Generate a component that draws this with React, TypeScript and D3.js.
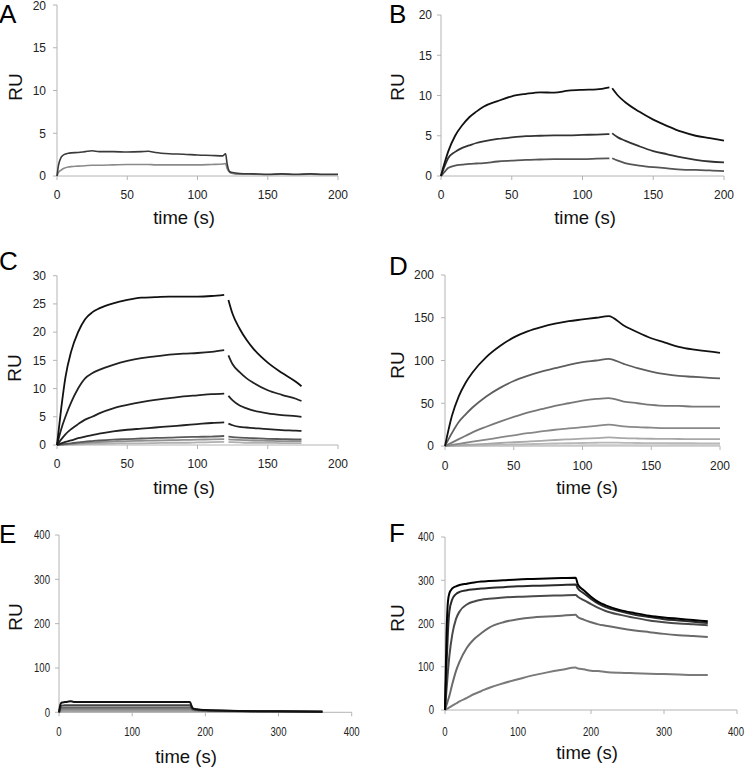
import React from "react";
import * as d3 from "d3";

// ---------------- DATA ----------------
// Panel A
const aTime = [0, 1, 3, 5, 8, 10, 15, 20, 25, 30, 40, 50, 60, 65, 70, 80, 90, 100, 110, 118, 120, 121, 123, 125, 130, 140, 150, 160, 170, 180, 190, 200];
const aDark = [0, 1.2, 2.2, 2.5, 2.65, 2.7, 2.75, 2.85, 2.95, 2.85, 2.85, 2.8, 2.85, 2.9, 2.75, 2.6, 2.55, 2.45, 2.4, 2.35, 2.6, 1.5, 0.5, 0.4, 0.3, 0.25, 0.2, 0.25, 0.2, 0.25, 0.2, 0.2];
const aLight = [0, 0.4, 0.7, 0.9, 1.05, 1.1, 1.15, 1.2, 1.25, 1.25, 1.3, 1.35, 1.35, 1.35, 1.3, 1.3, 1.3, 1.3, 1.35, 1.4, 1.45, 0.9, 0.4, 0.3, 0.2, 0.2, 0.15, 0.2, 0.15, 0.2, 0.15, 0.15];

// Panel B
const bAssocTime = [0, 1, 3, 5, 10, 15, 20, 25, 30, 40, 50, 60, 70, 80, 90, 100, 110, 119];
const bDissTime = [121, 125, 130, 140, 150, 160, 170, 180, 190, 200];
const bHighAssoc = [0, 0.7, 1.9, 3.0, 5.0, 6.3, 7.3, 8.0, 8.6, 9.3, 9.9, 10.2, 10.4, 10.35, 10.6, 10.7, 10.75, 11.0];
const bHighDiss = [10.9, 10.0, 9.2, 8.0, 7.0, 6.2, 5.5, 5.0, 4.7, 4.4];
const bMidAssoc = [0, 0.5, 1.4, 2.2, 3.0, 3.5, 3.8, 4.1, 4.3, 4.6, 4.8, 4.95, 5.0, 5.05, 5.05, 5.1, 5.15, 5.2];
const bMidDiss = [5.3, 4.8, 4.4, 3.7, 3.1, 2.7, 2.3, 2.0, 1.8, 1.7];
const bLowAssoc = [0, 0.2, 0.6, 1.0, 1.3, 1.4, 1.5, 1.55, 1.6, 1.8, 1.9, 2.0, 2.05, 2.1, 2.1, 2.1, 2.15, 2.2];
const bLowDiss = [2.2, 1.9, 1.6, 1.3, 1.1, 0.95, 0.8, 0.75, 0.7, 0.6];

// Panel C
const cAssocTime = [0, 3, 6, 10, 15, 20, 25, 30, 40, 50, 60, 70, 80, 90, 100, 110, 119];
const cDissTime = [122, 125, 130, 135, 140, 150, 160, 170, 174];
const c1Assoc = [0, 6.5, 12, 16.5, 20, 22.3, 23.5, 24.2, 25.1, 25.7, 26.1, 26.2, 26.3, 26.3, 26.3, 26.4, 26.6];
const c1Diss = [25.7, 23.2, 20.6, 18.6, 17.0, 14.6, 12.8, 11.2, 10.4];
const c2Assoc = [0, 2.8, 5, 7.5, 10, 11.8, 12.7, 13.3, 14.2, 14.9, 15.4, 15.7, 16.0, 16.2, 16.3, 16.5, 16.8];
const c2Diss = [15.9, 14.3, 12.9, 11.8, 11.0, 9.7, 8.9, 8.2, 7.8];
const c3Assoc = [0, 1.0, 1.9, 2.8, 3.7, 4.5, 5.0, 5.6, 6.5, 7.1, 7.6, 8.0, 8.3, 8.6, 8.8, 9.0, 9.1];
const c3Diss = [8.7, 7.9, 7.0, 6.5, 6.1, 5.6, 5.3, 5.1, 5.0];
const c4Assoc = [0, 0.3, 0.55, 0.8, 1.2, 1.5, 1.75, 2.0, 2.4, 2.7, 2.9, 3.1, 3.3, 3.5, 3.7, 3.9, 4.0];
const c4Diss = [3.8, 3.5, 3.2, 3.1, 3.0, 2.8, 2.65, 2.55, 2.5];
const c5Assoc = [0, 0.1, 0.2, 0.3, 0.45, 0.6, 0.7, 0.8, 0.95, 1.05, 1.15, 1.25, 1.3, 1.4, 1.45, 1.5, 1.6];
const c5Diss = [1.5, 1.4, 1.3, 1.25, 1.2, 1.1, 1.05, 1.0, 1.0];
const c6Assoc = [0, 0.05, 0.1, 0.2, 0.3, 0.4, 0.45, 0.5, 0.6, 0.7, 0.75, 0.8, 0.85, 0.9, 0.95, 1.0, 1.05];
const c6Diss = [1.0, 0.95, 0.9, 0.85, 0.8, 0.75, 0.7, 0.7, 0.7];
const c7Assoc = [0, 0.02, 0.05, 0.08, 0.1, 0.15, 0.2, 0.2, 0.25, 0.3, 0.3, 0.35, 0.4, 0.4, 0.45, 0.5, 0.55];
const c7Diss = [0.5, 0.5, 0.45, 0.4, 0.4, 0.4, 0.35, 0.35, 0.35];

// Panel D
const dTime = [0, 5, 10, 15, 20, 30, 40, 50, 60, 70, 80, 90, 100, 110, 119, 130, 140, 150, 160, 170, 180, 190, 200];
const d1 = [0, 35, 58, 74, 86, 104, 117, 127, 134, 139, 143, 146, 148, 150, 152, 141, 133, 126, 121, 116, 113, 111, 109];
const d2 = [0, 15, 28, 37, 45, 58, 68, 76, 82, 87, 91, 95, 98, 100, 102, 96, 91, 87, 84, 82, 81, 80, 79];
const d3v = [0, 4, 8, 12, 16, 22.5, 28.5, 34, 39, 43, 47, 50, 53, 55, 56, 52, 50, 48, 47, 47, 46, 46, 46];
const d4 = [0, 1.2, 2.5, 3.8, 5, 7.5, 10, 12.5, 15, 17, 19, 20.5, 22, 23.5, 25, 23, 22, 21.5, 21, 21, 21, 21, 21];
const d5 = [0, 0.4, 0.9, 1.3, 1.7, 2.6, 3.5, 4.4, 5.2, 6, 7, 7.8, 8.6, 9.3, 10, 9.2, 8.8, 8.5, 8.3, 8.2, 8.1, 8, 8];
const d6 = [0, 0.2, 0.4, 0.6, 0.8, 1.1, 1.5, 1.8, 2.2, 2.5, 2.9, 3.2, 3.5, 3.8, 4, 3.7, 3.5, 3.4, 3.3, 3.2, 3.2, 3.1, 3.1];
const d7 = [0, 0.1, 0.1, 0.2, 0.2, 0.3, 0.4, 0.5, 0.6, 0.7, 0.8, 0.8, 0.9, 1, 1, 1, 0.9, 0.9, 0.9, 0.9, 0.9, 0.9, 0.9];

// Panel E
const eTime = [0, 2, 4, 8, 12, 16, 20, 50, 100, 150, 179, 181, 183, 186, 190, 200, 220, 250, 300, 360];
const e1 = [0, 18, 22, 23, 24, 25, 23.5, 23.5, 23.5, 23.5, 23.5, 15, 9, 7.5, 6.5, 5.2, 4, 3, 2.2, 1.5];
const e2 = [0, 12, 15, 16, 16, 16, 16, 16, 16, 16, 16, 11, 8, 6.5, 5.5, 4.6, 3.7, 2.8, 2.1, 1.4];
const e3 = [0, 8, 10.5, 11, 11, 11, 11, 11, 11, 11, 11, 8, 6.5, 5.5, 4.8, 4.0, 3.3, 2.6, 2.0, 1.3];
const e4 = [0, 5, 7, 7.5, 7.5, 7.5, 7.5, 7.5, 7.5, 7.5, 7.5, 6, 5, 4.5, 4.0, 3.5, 3.0, 2.4, 1.9, 1.2];
const e5 = [0, 2.5, 3.8, 4, 4, 4, 4, 4, 4, 4, 4, 3.6, 3.3, 3.1, 2.9, 2.7, 2.4, 2.1, 1.7, 1.1];
const e6 = [0, 1, 1.8, 2, 2, 2, 2, 2, 2, 2, 2, 1.9, 1.8, 1.8, 1.7, 1.6, 1.5, 1.4, 1.2, 1.0];

// Panel F
const fTime = [0, 2, 4, 6, 10, 15, 20, 30, 40, 50, 60, 80, 100, 120, 140, 160, 179, 182, 190, 200, 210, 220, 240, 260, 280, 300, 320, 340, 360];
const f1 = [0, 170, 250, 270, 281, 286, 289, 292, 295, 297, 298, 300, 302, 303, 304, 305, 306, 290, 277, 262, 250, 242, 231, 224, 218, 214, 211, 208, 205];
const f2 = [0, 100, 180, 228, 256, 268, 273, 277, 279, 281, 282, 284, 286, 287, 288, 289, 290, 281, 270, 257, 246, 238, 228, 220, 215, 210, 207, 204, 201];
const f3 = [0, 45, 88, 125, 175, 210, 228, 244, 251, 255, 257, 260, 262, 263, 264, 265, 266, 262, 254, 245, 236, 229, 220, 213, 207, 203, 200, 198, 196];
const f4 = [0, 11, 22, 33, 60, 90, 112, 144, 164, 178, 190, 203, 210, 214, 216, 218, 220, 215, 209, 203, 198, 195, 189, 184, 180, 176, 173, 171, 169];
const f5 = [0, 2, 4, 6, 10, 15, 20, 28, 37, 44, 51, 62, 71, 80, 87, 93, 98, 96, 94, 91, 90, 88, 86, 85, 84, 83, 82, 81, 81];

// ---------------- LAYOUT ----------------
type Seg = { t: number[]; v: number[] };
type Series = { segs: Seg[]; color: string };
type Panel = {
  letter: string;
  L: number; R: number; T: number; B: number;
  xMax: number; xStep: number; yMax: number; yStep: number;
  tickBase: number; yLabelX: number;
  titleX: number; titleY: number;
  ruX: number; ruY: number;
  letterX: number; letterY: number;
  narrow?: boolean;
  sw: number;
  series: Series[];
};

const one = (t: number[], v: number[], color: string): Series => ({ segs: [{ t, v }], color });
const two = (t1: number[], v1: number[], t2: number[], v2: number[], color: string): Series => ({
  segs: [{ t: t1, v: v1 }, { t: t2, v: v2 }],
  color,
});

const panels: Panel[] = [
  {
    letter: "A", L: 57, R: 338, T: 5, B: 176, xMax: 200, xStep: 50, yMax: 20, yStep: 5,
    tickBase: 198.5, yLabelX: 46, titleX: 184, titleY: 224, ruX: 15, ruY: 87, letterX: -1, letterY: 23, sw: 1.6,
    series: [one(aTime, aLight, "#8a8a8a"), one(aTime, aDark, "#3a3a3a")],
  },
  {
    letter: "B", L: 441, R: 724, T: 15, B: 176, xMax: 200, xStep: 50, yMax: 20, yStep: 5,
    tickBase: 198.5, yLabelX: 432, titleX: 585, titleY: 224, ruX: 397, ruY: 87, letterX: 389, letterY: 23, sw: 1.8,
    series: [
      two(bAssocTime, bLowAssoc, bDissTime, bLowDiss, "#555"),
      two(bAssocTime, bMidAssoc, bDissTime, bMidDiss, "#333"),
      two(bAssocTime, bHighAssoc, bDissTime, bHighDiss, "#111"),
    ],
  },
  {
    letter: "C", L: 57, R: 338, T: 275.7, B: 445, xMax: 200, xStep: 50, yMax: 30, yStep: 5,
    tickBase: 467.5, yLabelX: 46, titleX: 184, titleY: 494, ruX: 14, ruY: 368, letterX: -1, letterY: 270, sw: 1.8,
    series: [
      two(cAssocTime, c7Assoc, cDissTime, c7Diss, "#b0b0b0"),
      two(cAssocTime, c6Assoc, cDissTime, c6Diss, "#909090"),
      two(cAssocTime, c5Assoc, cDissTime, c5Diss, "#5a5a5a"),
      two(cAssocTime, c4Assoc, cDissTime, c4Diss, "#222"),
      two(cAssocTime, c3Assoc, cDissTime, c3Diss, "#222"),
      two(cAssocTime, c2Assoc, cDissTime, c2Diss, "#222"),
      two(cAssocTime, c1Assoc, cDissTime, c1Diss, "#111"),
    ],
  },
  {
    letter: "D", L: 445, R: 720, T: 275, B: 446, xMax: 200, xStep: 50, yMax: 200, yStep: 50,
    tickBase: 469.5, yLabelX: 434, titleX: 587, titleY: 494, ruX: 397, ruY: 365, letterX: 389, letterY: 275, sw: 1.8,
    series: [
      one(dTime, d7, "#c8c8c8"),
      one(dTime, d6, "#b8b8b8"),
      one(dTime, d5, "#a8a8a8"),
      one(dTime, d4, "#888"),
      one(dTime, d3v, "#777"),
      one(dTime, d2, "#5e5e5e"),
      one(dTime, d1, "#111"),
    ],
  },
  {
    letter: "E", L: 59, R: 351.7, T: 535, B: 712.3, xMax: 400, xStep: 100, yMax: 400, yStep: 100,
    tickBase: 736, yLabelX: 50, titleX: 186, titleY: 763, ruX: 15, ruY: 617, letterX: -1, letterY: 543, sw: 2, narrow: true,
    series: [
      one(eTime, e6, "#aaa"),
      one(eTime, e5, "#999"),
      one(eTime, e4, "#888"),
      one(eTime, e3, "#666"),
      one(eTime, e2, "#444"),
      one(eTime, e1, "#111"),
    ],
  },
  {
    letter: "F", L: 445, R: 737, T: 537, B: 710, xMax: 400, xStep: 100, yMax: 400, yStep: 100,
    tickBase: 736, yLabelX: 434, titleX: 587, titleY: 759, ruX: 397, ruY: 618, letterX: 389, letterY: 542, sw: 2, narrow: true,
    series: [
      one(fTime, f5, "#7a7a7a"),
      one(fTime, f4, "#6a6a6a"),
      one(fTime, f3, "#4a4a4a"),
      one(fTime, f2, "#2a2a2a"),
      one(fTime, f1, "#000"),
    ],
  },
];

const AXIS = "#b4b4b4";
const SANS = "'Liberation Sans', Arial, Helvetica, sans-serif";

function TickText({ x, y, anchor, narrow, children }: { x: number; y: number; anchor: string; narrow?: boolean; children: React.ReactNode }) {
  const sx = narrow ? 0.8 : 1;
  return (
    <text
      transform={`translate(${x},${y}) scale(${sx},1)`}
      textAnchor={anchor}
      fontSize={12}
      fontFamily={SANS}
      fill="#222"
    >
      {children}
    </text>
  );
}

function PanelView({ p }: { p: Panel }) {
  const x = d3.scaleLinear().domain([0, p.xMax]).range([p.L, p.R]);
  const y = d3.scaleLinear().domain([0, p.yMax]).range([p.B, p.T]);
  const xTicks = d3.range(0, p.xMax + 0.001, p.xStep);
  const yTicks = d3.range(0, p.yMax + 0.001, p.yStep);
  const line = d3
    .line<[number, number]>()
    .x((d) => x(d[0]))
    .y((d) => y(d[1]))
    .curve(d3.curveMonotoneX);
  return (
    <g>
      {/* axes */}
      <line x1={p.L} x2={p.L} y1={p.T} y2={p.B} stroke={AXIS} strokeWidth={1} />
      <line x1={p.L} x2={p.R} y1={p.B} y2={p.B} stroke={AXIS} strokeWidth={1} />
      {yTicks.map((v) => (
        <g key={"y" + v}>
          <line x1={p.L - 4} x2={p.L} y1={y(v)} y2={y(v)} stroke={AXIS} />
          <TickText x={p.yLabelX} y={Math.max(y(v) + 4.3, 10)} anchor="end" narrow={p.narrow}>
            {v}
          </TickText>
        </g>
      ))}
      {xTicks.map((v) => (
        <g key={"x" + v}>
          <line x1={x(v)} x2={x(v)} y1={p.B} y2={p.B + 4} stroke={AXIS} />
          <TickText x={Math.min(x(v), 736)} y={p.tickBase} anchor="middle" narrow={p.narrow}>
            {v}
          </TickText>
        </g>
      ))}
      {/* data */}
      {p.series.map((s, i) =>
        s.segs.map((sg, j) => (
          <path
            key={i + "-" + j}
            d={line(sg.t.map((t, k) => [t, sg.v[k]] as [number, number])) || ""}
            fill="none"
            stroke={s.color}
            strokeWidth={p.sw}
            strokeLinejoin="round"
          />
        ))
      )}
      {/* labels */}
      <text x={p.titleX} y={p.titleY} textAnchor="middle" fontSize={18.5} fontFamily={SANS} fill="#111">
        time (s)
      </text>
      <text
        transform={`translate(${p.ruX + 6.5},${p.ruY}) rotate(-90)`}
        textAnchor="middle"
        fontSize={19}
        fontFamily={SANS}
        fill="#111"
      >
        RU
      </text>
      <text x={p.letterX} y={p.letterY} fontSize={26} fontFamily={SANS} fill="#000">
        {p.letter}
      </text>
    </g>
  );
}

export default function App() {
  return (
    <svg
      width={745}
      height={768}
      viewBox="0 0 745 768"
      style={{ position: "absolute", left: 0, top: 0, background: "#fff" }}
    >
      <rect x={0} y={0} width={745} height={768} fill="#fff" />
      {panels.map((p) => (
        <PanelView key={p.letter} p={p} />
      ))}
    </svg>
  );
}
